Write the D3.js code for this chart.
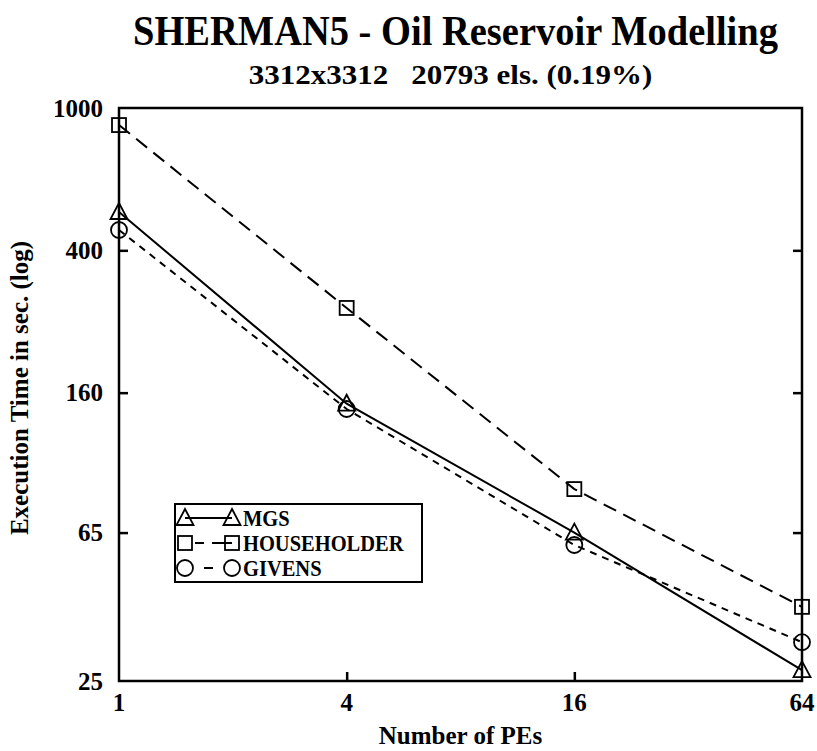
<!DOCTYPE html>
<html>
<head>
<meta charset="utf-8">
<script src="https://cdn.jsdelivr.net/npm/d3@7"></script>
<style>
  body { margin: 0; background: #fff; }
</style>
</head>
<body>
<script>
// data
var pes = [1, 4, 16, 64];
var mgs = [512, 149, 65, 26.8];
var householder = [896, 276, 86, 40.3];
var givens = [456, 144, 60, 32.1];
var yTicks = [25, 65, 160, 400, 1000];

var series = [
  {name: "MGS", values: mgs, dash: null, symbol: "triangle"},
  {name: "HOUSEHOLDER", values: householder, dash: "14,8", symbol: "square"},
  {name: "GIVENS", values: givens, dash: "7,6", symbol: "circle"}
];

// set the dimensions and margins of the graph
var margin = {top: 108, right: 15, bottom: 70, left: 119},
    width = 817 - margin.left - margin.right,
    height = 751 - margin.top - margin.bottom;

var x = d3.scaleLog().base(2).domain([1, 64]).range([0, width]);
var y = d3.scaleLog().domain([25, 1000]).range([height, 0]);

var svg = d3.select("body").append("svg")
    .attr("width", 817)
    .attr("height", 751)
    .attr("font-family", "'Liberation Serif', 'Times New Roman', serif")
    .attr("font-weight", "bold")
  .append("g")
    .attr("transform", "translate(" + margin.left + "," + margin.top + ")");

// titles
svg.append("text")
    .attr("transform", "translate(" + (width / 2 - 5) + ",-63) scale(1,1.12)")
    .attr("text-anchor", "middle")
    .style("font-size", "38.5px")
    .text("SHERMAN5 - Oil Reservoir Modelling");

svg.append("text")
    .attr("transform", "translate(" + (width / 2 - 10) + ",-24) scale(1,0.85)")
    .attr("text-anchor", "middle")
    .style("font-size", "31px")
    .style("white-space", "pre")
    .text("3312x3312   20793 els. (0.19%)");

// frame
svg.append("rect")
    .attr("width", width)
    .attr("height", height)
    .attr("fill", "none")
    .attr("stroke", "#000")
    .attr("stroke-width", 2.5);

// y axis (left, ticks inward) and right ticks
var yAxis = svg.append("g")
    .call(d3.axisRight(y).tickValues(yTicks).tickSize(9).tickFormat(""));
yAxis.select(".domain").remove();
yAxis.selectAll("line").attr("stroke-width", 2.5);
yAxis.selectAll(".tick").filter(function(d) { return d === 25 || d === 1000; }).select("line").remove();

var yAxisR = svg.append("g")
    .attr("transform", "translate(" + width + ",0)")
    .call(d3.axisLeft(y).tickValues(yTicks).tickSize(9).tickFormat(""));
yAxisR.select(".domain").remove();
yAxisR.selectAll("line").attr("stroke-width", 2.5);
yAxisR.selectAll(".tick").filter(function(d) { return d === 25 || d === 1000; }).select("line").remove();

svg.selectAll(".ylabel")
    .data(yTicks)
    .enter().append("text")
    .attr("x", -16)
    .attr("y", function(d) { return y(d); })
    .attr("dy", "0.35em")
    .attr("text-anchor", "end")
    .style("font-size", "25px")
    .text(function(d) { return d; });

// x axis
var xAxis = svg.append("g")
    .attr("transform", "translate(0," + height + ")")
    .call(d3.axisTop(x).tickValues(pes).tickSize(9).tickFormat(""));
xAxis.select(".domain").remove();
xAxis.selectAll("line").attr("stroke-width", 2.5);
xAxis.selectAll(".tick").filter(function(d) { return d === 1 || d === 64; }).select("line").remove();

svg.selectAll(".xlabel")
    .data(pes)
    .enter().append("text")
    .attr("x", function(d) { return x(d); })
    .attr("y", height + 30)
    .attr("text-anchor", "middle")
    .style("font-size", "25px")
    .text(function(d) { return d; });

// axis labels
svg.append("text")
    .attr("x", width / 2)
    .attr("y", height + 63)
    .attr("text-anchor", "middle")
    .style("font-size", "25px")
    .text("Number of PEs");

svg.append("text")
    .attr("transform", "rotate(-90)")
    .attr("x", -280)
    .attr("y", -91)
    .attr("text-anchor", "middle")
    .style("font-size", "25px")
    .text("Execution Time in sec. (log)");

// symbols
function drawSymbol(g, type, cx, cy) {
  if (type === "triangle") {
    g.append("path")
      .attr("d", "M" + cx + "," + (cy - 9) + "L" + (cx + 8.5) + "," + (cy + 7) + "L" + (cx - 8.5) + "," + (cy + 7) + "Z")
      .attr("fill", "none").attr("stroke", "#000").attr("stroke-width", 1.8);
  } else if (type === "square") {
    g.append("rect")
      .attr("x", cx - 7).attr("y", cy - 7).attr("width", 14).attr("height", 14)
      .attr("fill", "none").attr("stroke", "#000").attr("stroke-width", 1.8);
  } else {
    g.append("circle")
      .attr("cx", cx).attr("cy", cy).attr("r", 8)
      .attr("fill", "none").attr("stroke", "#000").attr("stroke-width", 1.8);
  }
}

var line = d3.line()
    .x(function(d, i) { return x(pes[i]); })
    .y(function(d) { return y(d); });

series.forEach(function(s) {
  svg.append("path")
      .datum(s.values)
      .attr("d", line)
      .attr("fill", "none")
      .attr("stroke", "#000")
      .attr("stroke-width", 2)
      .attr("stroke-dasharray", s.dash);
  var g = svg.append("g");
  s.values.forEach(function(v, i) {
    drawSymbol(g, s.symbol, x(pes[i]), y(v));
  });
});

// legend
var legend = svg.append("g")
    .attr("transform", "translate(" + (175 - margin.left) + "," + (504 - margin.top) + ")");

legend.append("rect")
    .attr("width", 247)
    .attr("height", 78)
    .attr("fill", "#fff")
    .attr("stroke", "#000")
    .attr("stroke-width", 2);

series.forEach(function(s, i) {
  var ly = 14 + i * 25;
  legend.append("line")
      .attr("x1", 10).attr("x2", 57)
      .attr("y1", ly).attr("y2", ly)
      .attr("stroke", "#000")
      .attr("stroke-width", 2)
      .attr("stroke-dasharray", s.dash ? (s.symbol === "circle" ? "0,19,9,100" : "0,10,9,8,20") : null);
  drawSymbol(legend, s.symbol, 10, ly);
  drawSymbol(legend, s.symbol, 57, ly);
  legend.append("text")
      .attr("transform", "translate(68," + ly + ") scale(1,1.15)")
      .attr("dy", "0.35em")
      .style("font-size", "20.5px")
      .text(s.name);
});
</script>
</body>
</html>
